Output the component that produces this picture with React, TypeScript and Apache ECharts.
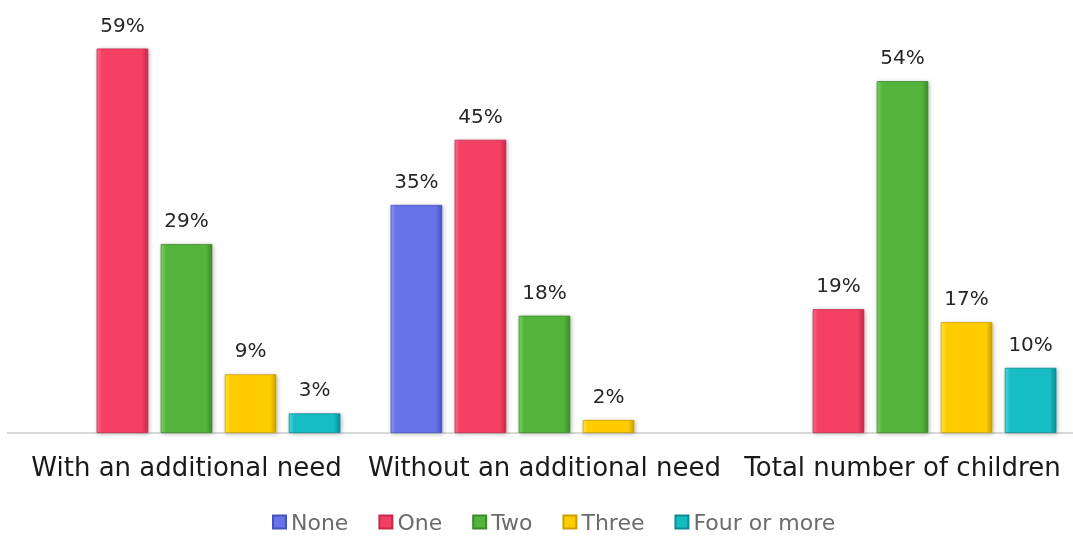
import React, { useEffect, useRef } from "react";
import * as echarts from "echarts";

const categories = ["With an additional need", "Without an additional need", "Total number of children"];
const seriesNames = ["None", "One", "Two", "Three", "Four or more"];
const noneValues = [null, 35, null];
const oneValues = [59, 45, 19];
const twoValues = [29, 18, 54];
const threeValues = [9, 2, 17];
const fourValues = [3, null, 10];
const allValues = [noneValues, oneValues, twoValues, threeValues, fourValues];

const colors = ["#6672E8", "#F43F64", "#53B43B", "#FFCC00", "#14BDC4"];
const lighter = ["#8A95F0", "#F86D8A", "#7CD063", "#FFE040", "#4ED6DC"];
const darker = ["#4552BE", "#C42A4A", "#3C8A2A", "#C9A000", "#0B8C92"];

export default function App() {
  const ref = useRef<HTMLDivElement>(null);
  useEffect(() => {
    if (!ref.current) return;
    const chart = echarts.init(ref.current, null, { renderer: "svg" });
    const font = "'DejaVu Sans', sans-serif";
    chart.setOption({
      animation: false,
      grid: { left: 7.5, width: 1074, top: 42, bottom: 105, outerBoundsMode: "none", containLabel: false },
      legend: {
        bottom: 0,
        left: 267,
        itemWidth: 13,
        itemHeight: 13,
        itemGap: 30,
        icon: "rect",
        textStyle: { fontFamily: font, fontSize: 22, color: "#6b6b6b" },
        data: seriesNames,
      },
      xAxis: {
        type: "category",
        data: categories,
        axisLine: { lineStyle: { color: "#D9D9D9", width: 2 } },
        axisTick: { show: false },
        axisLabel: { interval: 0, fontFamily: font, fontSize: 26, color: "#1a1a1a", margin: 21 },
      },
      yAxis: { type: "value", min: 0, max: 60, show: false, splitLine: { show: false } },
      series: seriesNames.map((name, i) => ({
        name,
        type: "bar",
        data: allValues[i].map((v) => (v === null ? "-" : v)),
        barCategoryGap: "14%",
        barGap: "24%",
        itemStyle: {
          color: new echarts.graphic.LinearGradient(0, 0, 1, 0, [
            { offset: 0, color: lighter[i] },
            { offset: 0.1, color: colors[i] },
            { offset: 0.88, color: colors[i] },
            { offset: 1, color: darker[i] },
          ]),
          borderColor: darker[i],
          borderWidth: 0.8,
          shadowColor: "rgba(0,0,0,0.3)",
          shadowBlur: 4,
          shadowOffsetX: 1,
          shadowOffsetY: 1,
        },
        label: {
          show: true,
          position: "top",
          distance: 14,
          formatter: "{c}%",
          fontFamily: font,
          fontSize: 20,
          color: "#262626",
        },
      })),
    });
    return () => chart.dispose();
  }, []);
  return <div ref={ref} style={{ position: "fixed", left: 0, top: 0, width: 1073, height: 538 }} />;
}
